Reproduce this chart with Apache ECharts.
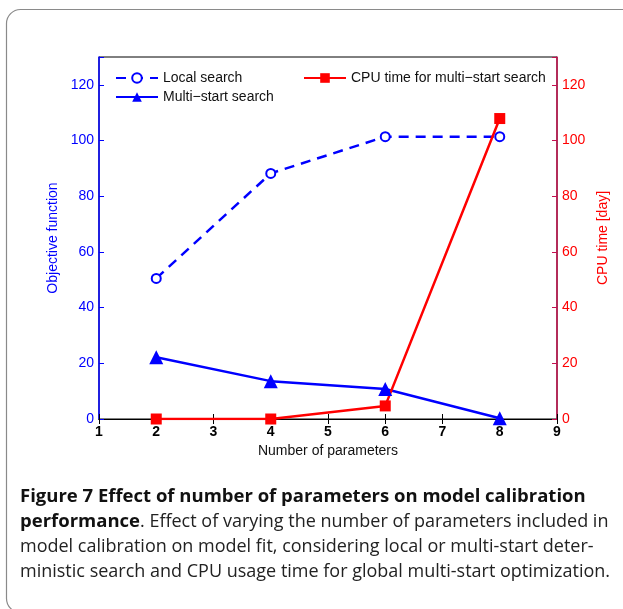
<!DOCTYPE html>
<html><head><meta charset="utf-8">
<script src="https://cdn.jsdelivr.net/npm/echarts@6/dist/echarts.min.js"></script>
<style>html,body{margin:0;padding:0;background:#fff}#c{width:623px;height:609px}</style>
</head><body><div id="c"></div>
<script>
var params = [2, 4, 6, 8];
var localSearch = [50.5, 88.2, 101.4, 101.4];
var multiStart = [22.2, 13.6, 10.8, 0.3];
var cpuTime = [0, 0, 4.7, 107.9];
var yTicks = [0, 20, 40, 60, 80, 100, 120];
var xTicks = [1, 2, 3, 4, 5, 6, 7, 8, 9];
function pts(v){ return params.map(function(p,i){ return [p, v[i]]; }); }
var FONT = 'Liberation Sans';
var chart = echarts.init(document.getElementById('c'), null, {renderer:'canvas'});
chart.setOption({
  animation:false,
  backgroundColor:'#fff',
  textStyle:{fontFamily:FONT},
  grid:{left:99, right:66, top:57, bottom:190, show:true, borderColor:'#000', borderWidth:1, backgroundColor:'transparent'},
  legend:[
    {data:['Local search','Multi\u2212start search'], orient:'vertical', left:110, top:66, itemWidth:42, itemHeight:12, itemGap:5,
     textStyle:{fontFamily:FONT, fontSize:14, color:'#111'}},
    {data:['CPU time for multi\u2212start search'], left:298, top:66, itemWidth:42, itemHeight:12,
     textStyle:{fontFamily:FONT, fontSize:14, color:'#111'}}
  ],
  xAxis:[
    {type:'value', min:1, max:9, interval:1, name:'Number of parameters', nameLocation:'middle', nameGap:24,
     nameTextStyle:{fontFamily:FONT, fontSize:14, color:'#111'},
     axisLine:{lineStyle:{color:'#000', width:1}}, axisTick:{inside:true, length:5, lineStyle:{color:'#000'}},
     axisLabel:{fontFamily:FONT, fontSize:14, color:'#000', margin:6, fontWeight:'bold',
       formatter:function(v){ return xTicks.indexOf(v)>=0 ? String(v) : ''; }},
     splitLine:{show:false}},
    {type:'value', position:'top', min:1, max:9, interval:1,
     axisLine:{show:true, lineStyle:{color:'#000'}}, axisTick:{inside:true, length:5, lineStyle:{color:'#000'}},
     axisLabel:{show:false}, splitLine:{show:false}}
  ],
  yAxis:[
    {type:'value', min:0, max:130, interval:20, name:'Objective function', nameLocation:'middle', nameGap:36,
     nameTextStyle:{fontFamily:FONT, fontSize:14, color:'#0000ff'},
     axisLine:{show:true, lineStyle:{color:'#0000ff', width:1.5}}, axisTick:{inside:true, length:5, lineStyle:{color:'#0000ff'}},
     axisLabel:{fontFamily:FONT, fontSize:14, color:'#0000ff', margin:5,
       formatter:function(v){ return yTicks.indexOf(v)>=0 ? String(v) : ''; }},
     splitLine:{show:false}},
    {type:'value', min:0, max:130, interval:20, name:'CPU time [day]', nameLocation:'middle', nameGap:33, position:'right',
     nameTextStyle:{fontFamily:FONT, fontSize:14, color:'#ff0000'},
     axisLine:{show:true, lineStyle:{color:'#c4104e', width:1.5}}, axisTick:{inside:true, length:5, lineStyle:{color:'#c4104e'}},
     axisLabel:{fontFamily:FONT, fontSize:14, color:'#ff0000', margin:5,
       formatter:function(v){ return yTicks.indexOf(v)>=0 ? String(v) : ''; }},
     splitLine:{show:false}}
  ],
  series:[
    {name:'Local search', type:'line', xAxisIndex:0, yAxisIndex:0, data:pts(localSearch),
     symbol:'emptyCircle', symbolSize:9, color:'#0000ff',
     lineStyle:{color:'#0000ff', width:2.5, type:[10,7]},
     itemStyle:{color:'#0000ff', borderColor:'#0000ff', borderWidth:2.6}},
    {name:'Multi\u2212start search', type:'line', xAxisIndex:0, yAxisIndex:0, data:pts(multiStart),
     symbol:'triangle', symbolSize:14, color:'#0000ff',
     lineStyle:{color:'#0000ff', width:2.5}, itemStyle:{color:'#0000ff'}},
    {name:'CPU time for multi\u2212start search', type:'line', xAxisIndex:0, yAxisIndex:1, data:pts(cpuTime),
     symbol:'rect', symbolSize:11, color:'#ff0000',
     lineStyle:{color:'#ff0000', width:2.5}, itemStyle:{color:'#ff0000'}}
  ],
  graphic:[
    {type:'rect', shape:{x:6.5, y:9.5, width:640, height:603, r:14}, style:{fill:'none', stroke:'#8a8a8a', lineWidth:1.2}, z:-1},
    {type:'text', left:20, top:487, style:{text:'Figure 7 Effect of number of parameters on model calibration', font:'bold 18.5px "Open Sans"', fill:'#111'}},
    {type:'text', left:20, top:512, style:{rich:{b:{font:'bold 18.5px "Open Sans"', fill:'#111'}, n:{font:'18px "Open Sans"', fill:'#222'}},
       text:'{b|performance}{n|. Effect of varying the number of parameters included in}'}},
    {type:'text', left:20, top:538, style:{text:'model calibration on model fit, considering local or multi-start deter-', font:'18px "Open Sans"', fill:'#222'}},
    {type:'text', left:20, top:563, style:{text:'ministic search and CPU usage time for global multi-start optimization.', font:'18px "Open Sans"', fill:'#222'}}
  ]
});
</script></body></html>
